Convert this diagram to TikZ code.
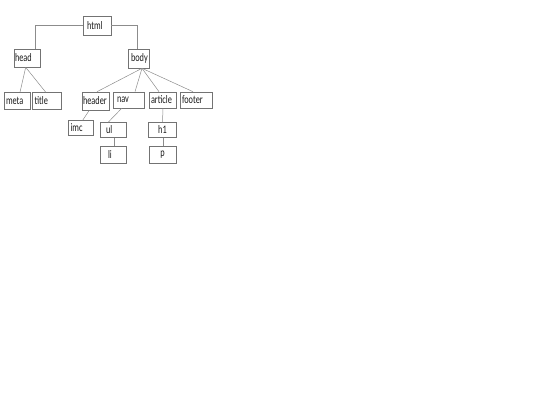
\documentclass[tikz,border=0pt]{standalone}
\usepackage{fontspec}
\setmainfont[FakeStretch=0.72]{Carlito}
\begin{document}
\begin{tikzpicture}[x=1pt,y=-1pt,
  bx/.style n args={4}{draw=black!55, line width=0.6pt, inner xsep=0pt, inner ysep=0pt,
    minimum width=#1pt, minimum height=#2pt, text width=#3pt, align=#4,
    font=\fontsize{11.5}{12}\selectfont, text=black!90},
  ln/.style={draw=black!45, line width=0.5pt}]
\useasboundingbox (0,0) rectangle (540,405);
% row 0
\node[bx={28}{19}{20}{left}] (html) at (97,25.5) {html};
% row 1
\node[bx={26}{18}{24}{left}] (head) at (27,58) {head};
\node[bx={21}{19}{15}{left}] (body) at (138.5,58.5) {body};
% row 2
\node[bx={26}{17}{23}{left}] (meta) at (17.5,101) {meta};
\node[bx={29}{17}{25}{left}] (title) at (47,101) {title};
\node[bx={27}{18}{25}{left}] (header) at (95.5,101) {header};
\node[bx={31}{16}{23}{left}] (nav) at (128.5,100) {nav};
\node[bx={27}{16}{24}{left}] (article) at (163,100) {article};
\node[bx={32}{16}{28}{left}] (footer) at (196,100) {footer};
% row 3
\node[bx={25}{15}{21}{left}] (imc) at (81,128) {imc};
\node[bx={26.5}{15}{14.5}{left}] (ul) at (113.25,130) {ul};
\node[bx={28}{15}{24}{center}] (h1) at (162.5,130) {h1};
% row 4
\node[bx={26.5}{16.5}{10.5}{left}] (li) at (113.25,154.75) {li};
\node[bx={27}{16.5}{23}{center}] (p) at (162.5,154.75) {p};
% connectors
\draw[ln] (html.west) -| ([xshift=8pt]head.north);
\draw[ln] (html.east) -| ([xshift=-0.8pt]body.north);
\draw[ln] ([xshift=-1.3pt]head.south) -- ([xshift=2.5pt]meta.north);
\draw[ln] ([xshift=-1.3pt]head.south) -- ([xshift=-1.3pt]title.north);
\draw[ln] ([xshift=3.5pt]body.south) -- ([xshift=1.5pt]header.north);
\draw[ln] ([xshift=3.5pt]body.south) -- ([xshift=6.5pt]nav.north);
\draw[ln] ([xshift=3.5pt]body.south) -- ([xshift=-4pt]article.north);
\draw[ln] ([xshift=3.5pt]body.south) -- ([xshift=-3pt]footer.north);
\draw[ln] ([xshift=-6.2pt]header.south) -- ([xshift=1.7pt]imc.north);
\draw[ln] ([xshift=-6.8pt]nav.south) -- ([xshift=-5pt]ul.north);
\draw[ln] (article.south) -- (h1.north);
\draw[ln] ([xshift=0.75pt]ul.south) -- ([xshift=0.75pt]li.north);
\draw[ln] ([xshift=0.8pt]h1.south) -- ([xshift=0.8pt]p.north);
\end{tikzpicture}
\end{document}
